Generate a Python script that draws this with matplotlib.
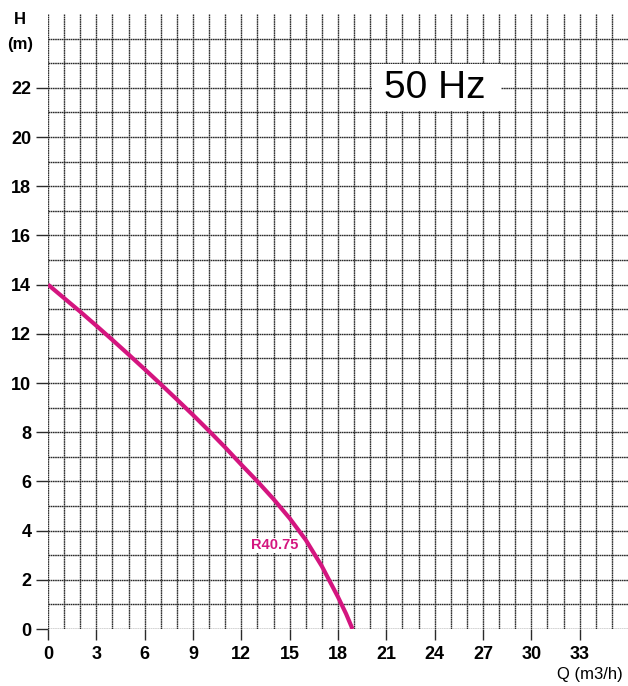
import matplotlib.pyplot as plt
from matplotlib.patches import Rectangle

plt.rcParams['font.family'] = ['Liberation Sans', 'DejaVu Sans']

# pump curve R40.75
flow = [0, 1, 2, 3, 4, 5, 6, 7, 8, 9, 10, 11, 12, 13, 14, 15, 16, 17, 18, 18.5, 18.9]
head = [14.0, 13.45, 12.9, 12.33, 11.75, 11.16, 10.56, 9.95, 9.33, 8.7, 8.05, 7.38, 6.68,
        6.0, 5.28, 4.5, 3.62, 2.55, 1.3, 0.62, 0.0]
curve_name = "R40.75"
freq_label = "50 Hz"

x_ticks = list(range(0, 34, 3))
y_ticks = list(range(0, 23, 2))

fig = plt.figure(figsize=(6.28, 6.86), dpi=100)
ax = fig.add_axes([48 / 628, 57 / 686, 580 / 628, 615 / 686])
ax.set_xlim(0, 36)
ax.set_ylim(0, 25)

# grid: every unit, major ticks labelled
ax.set_xticks(x_ticks)
ax.set_xticks(range(0, 36), minor=True)
ax.set_yticks(y_ticks)
ax.set_yticks(range(0, 25), minor=True)
ax.grid(True, which='both', color='#2a2a2a', linewidth=1.0, linestyle=(0, (1.2, 0.4)))
ax.set_axisbelow(True)
for s in ax.spines.values():
    s.set_visible(False)

ax.tick_params(which='minor', length=0)
ax.tick_params(which='major', length=8, width=1.0, color='#2a2a2a', pad=4,
               labelsize=13)
ax.tick_params(axis='y', which='major', length=9, pad=3)
for lbl in ax.get_xticklabels() + ax.get_yticklabels():
    lbl.set_fontweight('bold')

ax.plot(flow, head, color='#d4157f', linewidth=3.0, solid_capstyle='butt', zorder=3)
ax.text(14.1, 3.4, curve_name, color='#d4157f', fontsize=10.5, fontweight='semibold',
        ha='center', va='center', zorder=4,
        bbox=dict(facecolor='white', edgecolor='none', pad=0.5))

# 50 Hz box
ax.add_patch(Rectangle((20.1, 21.05), 8.0, 1.9, facecolor='white', edgecolor='none', zorder=2))
ax.text(24.0, 22.0, freq_label, fontsize=28, ha='center', va='center', zorder=3)

fig.text(20 / 628, 1 - 20 / 686, "H", fontsize=12, fontweight='bold', ha='center', va='center')
fig.text(20 / 628, 1 - 45 / 686, "(m)", fontsize=12, fontweight='bold', ha='center', va='center')
fig.text(590 / 628, 1 - 675 / 686, "Q (m3/h)", fontsize=12, ha='center', va='center')

fig.savefig('out.png', dpi=100)
